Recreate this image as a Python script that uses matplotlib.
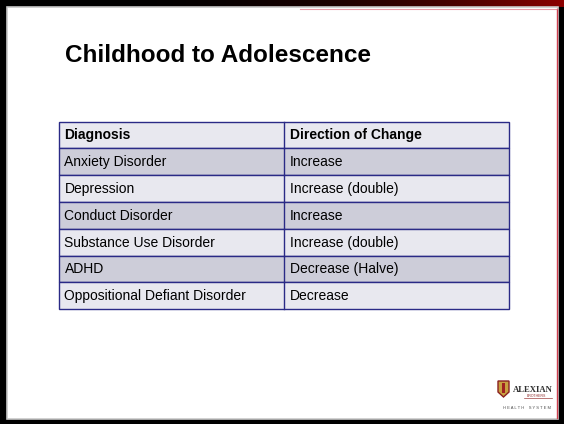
import numpy as np
import matplotlib
matplotlib.use('Agg')
import matplotlib.pyplot as plt
from matplotlib.patches import Rectangle, Polygon

plt.rcParams['font.family'] = ['Liberation Sans', 'DejaVu Sans']

title = 'Childhood to Adolescence'
headers = ['Diagnosis', 'Direction of Change']
diagnoses = ['Anxiety Disorder', 'Depression', 'Conduct Disorder',
             'Substance Use Disorder', 'ADHD', 'Oppositional Defiant Disorder']
changes = ['Increase', 'Increase (double)', 'Increase',
           'Increase (double)', 'Decrease (Halve)', 'Decrease']

W, H = 564, 424
fig = plt.figure(figsize=(W / 100, H / 100), dpi=100)
ax = fig.add_axes([0, 0, 1, 1])

# slide frame: black border, reddish towards the top right corner
ax.add_patch(Rectangle((0, 0), W, H, facecolor='black', edgecolor='none'))
grad = np.linspace(0, 1, 200) ** 3
top = np.zeros((1, 200, 3))
top[0, :, 0] = 0.55 * grad
ax.imshow(top, extent=(0, W, 7, 0), aspect='auto', zorder=1)
ax.add_patch(Rectangle((6.5, 7), W - 13, 412, facecolor='white',
                       edgecolor='#c8c8c8', linewidth=1.2, zorder=2))
ax.plot([W - 7, W - 7], [9, 418], color='#d04050', lw=1.0, zorder=3)
ax.plot([300, W - 7], [9, 9], color='#e07080', lw=0.8, alpha=0.7, zorder=3)

ax.text(65, 56, title, fontsize=17.5, fontweight='bold', color='black',
        ha='left', va='center', zorder=4)

# table
x0, x1, x2 = 58.5, 284, 509
y0, rh = 121.5, 26.8
line_col = '#2a2a86'
light, dark = '#e8e8ef', '#cdcdd9'
rows = [headers] + [[d, c] for d, c in zip(diagnoses, changes)]
for i, (a, b) in enumerate(rows):
    y = y0 + i * rh
    fc = dark if i % 2 == 1 else light
    ax.add_patch(Rectangle((x0, y), x2 - x0, rh, facecolor=fc,
                           edgecolor=line_col, linewidth=1.0, zorder=4))
    ax.plot([x1, x1], [y, y + rh], color=line_col, lw=1.0, zorder=5)
    weight = 'bold' if i == 0 else 'normal'
    ax.text(x0 + 6, y + rh / 2 + 0.5, a, fontsize=10, fontweight=weight,
            ha='left', va='center', zorder=6)
    ax.text(x1 + 6, y + rh / 2 + 0.5, b, fontsize=10, fontweight=weight,
            ha='left', va='center', zorder=6)

# logo, bottom right
ax.add_patch(Polygon([(498, 381), (509, 381), (509, 392), (503.5, 397), (498, 392)],
                     closed=True, facecolor='#c8a040', edgecolor='#8a2020',
                     linewidth=1.0, zorder=4))
ax.add_patch(Rectangle((502, 383), 3, 10, facecolor='#a02020', zorder=5))
ax.text(513, 390, 'ALEXIAN', fontsize=6.2, fontweight='bold', family='Liberation Serif',
        color='#303030', ha='left', va='center', zorder=5)
ax.text(527, 396, 'BROTHERS', fontsize=2.5, color='#903030',
        ha='left', va='center', zorder=5)
ax.plot([524, 552], [398, 398], color='#a04040', lw=0.5, zorder=5)
ax.text(503, 408, 'H E A L T H    S Y S T E M', fontsize=3.0, color='#505050',
        ha='left', va='center', zorder=5)

ax.set_xlim(0, W)
ax.set_ylim(H, 0)
ax.axis('off')

fig.savefig('out.png', dpi=100)
